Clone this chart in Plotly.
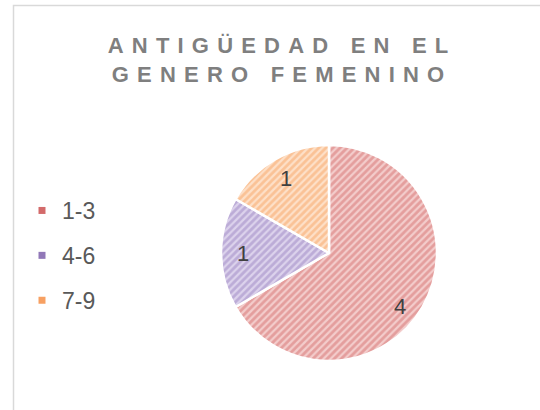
import math
import plotly.graph_objects as go

categories = ["1-3", "4-6", "7-9"]
values = [4, 1, 1]
title_lines = ["ANTIGÜEDAD EN EL", "GENERO FEMENINO"]

fg_colors = ["#d6706f", "#9c85c2", "#f8a363"]
bg_colors = ["#f3cccb", "#dcd2ec", "#fde0c8"]
legend_colors = ["#d36a6a", "#9178b8", "#f7a062"]

W, H = 540, 410
FONT = "Arial, Liberation Sans, sans-serif"

CX, CY, R = 329, 253, 108  # pie centre / radius in pixels (layout only)

fig = go.Figure()

fig.add_trace(go.Pie(
    labels=categories,
    values=values,
    sort=False,
    direction="clockwise",
    rotation=0,
    textinfo="none",
    marker=dict(
        colors=bg_colors,
        line=dict(color="white", width=2.5),
        pattern=dict(shape="/", fgcolor=fg_colors, bgcolor=bg_colors,
                     size=5, solidity=0.55, fillmode="overlay"),
    ),
    domain=dict(x=[(CX - R) / W, (CX + R) / W],
                y=[(H - CY - R) / H, (H - CY + R) / H]),
    showlegend=False,
    hoverinfo="label+value",
))

# data labels placed along each slice's bisector (derived from values)
total = sum(values)
annotations = []
cum = 0
for v in values:
    frac_mid = (cum + v / 2) / total
    cum += v
    mid = frac_mid * 2 * math.pi
    rr = (0.8 if v / total < 0.5 else 0.82) * R
    shift = 0.12 if v / total >= 0.5 else 0.0  # large slice label sits a bit lower
    ang = mid + shift
    px = CX + rr * math.sin(ang)
    py = CY - rr * math.cos(ang)
    annotations.append(dict(
        x=px / W, y=1 - py / H, xref="paper", yref="paper",
        text=str(v), showarrow=False,
        font=dict(family=FONT, size=22, color="#404040"),
        xanchor="center", yanchor="middle",
    ))

for i, cat in enumerate(categories):
    fig.add_trace(go.Scatter(
        x=[None], y=[None], mode="markers", name=cat,
        legendgroup=cat,
        marker=dict(symbol="square", size=7, color=legend_colors[i]),
    ))

ls = 8.2
title_text = "<br>".join(
    f'<span style="letter-spacing:{ls}px">{t}</span>' for t in title_lines)

fig.update_layout(
    width=W, height=H,
    margin=dict(l=0, r=0, t=0, b=0),
    paper_bgcolor="white",
    plot_bgcolor="white",
    xaxis=dict(visible=False),
    yaxis=dict(visible=False),
    title=dict(
        text=f"<b>{title_text}</b>",
        x=(278 + ls / 2) / W, xanchor="center",
        y=1 - 53 / H, yanchor="top",
        font=dict(family=FONT, size=22, color="#7f7f7f"),
    ),
    legend=dict(
        x=22 / W, xanchor="left",
        y=1 - 189 / H, yanchor="top",
        font=dict(family=FONT, size=23, color="#595959"),
        tracegroupgap=12,
        bgcolor="rgba(0,0,0,0)",
    ),
    annotations=annotations,
    shapes=[dict(
        type="rect", xref="paper", yref="paper",
        x0=13.5 / W, x1=1.05, y0=-0.05, y1=1 - 5.5 / H,
        line=dict(color="#d9d9d9", width=1.5),
        fillcolor="rgba(0,0,0,0)", layer="below",
    )],
)

fig.write_html(
    "out.html",
    config={"displayModeBar": False},
    post_script="document.body.style.margin='0';document.body.style.overflow='hidden';",
)
